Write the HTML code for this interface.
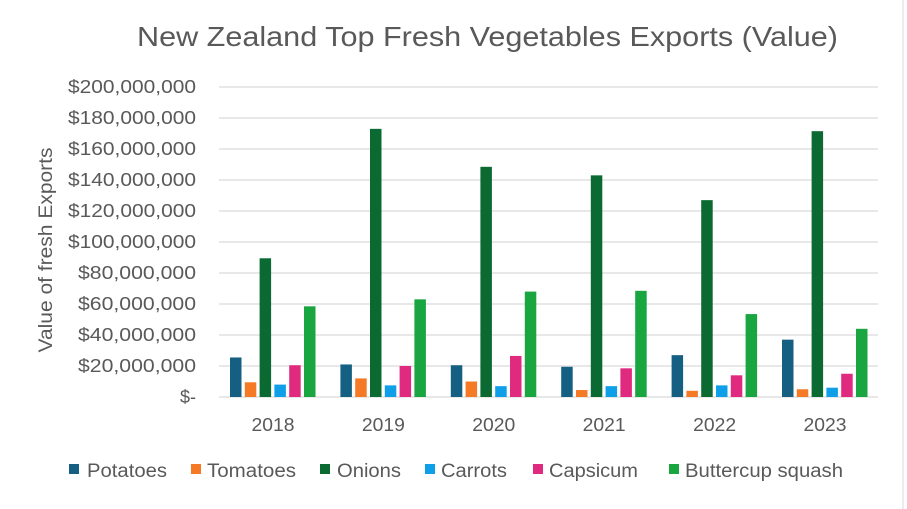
<!DOCTYPE html>
<html><head><meta charset="utf-8"><style>
body{margin:0;background:#fff}
svg{display:block;font-family:"Liberation Sans",sans-serif}
</style></head><body>
<svg id="c" width="907" height="509" viewBox="0 0 907 509" xmlns="http://www.w3.org/2000/svg">
<rect x="0" y="0" width="907" height="509" fill="#fff"/>
<line x1="903" y1="0" x2="903" y2="509" stroke="#d9d9d9"/>
<text x="137" y="46" font-size="28" fill="#595959" textLength="701" lengthAdjust="spacingAndGlyphs">New Zealand Top Fresh Vegetables Exports (Value)</text>
<g id="grid" stroke="#d9d9d9" stroke-width="1.3"></g>
<g id="ylab" font-size="18" fill="#595959" text-anchor="end"></g>
<text transform="translate(52,250) rotate(-90)" text-anchor="middle" font-size="19" fill="#595959" textLength="205" lengthAdjust="spacingAndGlyphs">Value of fresh Exports</text>
<g id="bars"></g>
<g id="xlab" font-size="18" fill="#595959" text-anchor="middle"></g>
<g font-size="19" fill="#595959">
<rect x="69" y="464" width="10" height="10" fill="#156082"/><text x="87" y="477" textLength="80" lengthAdjust="spacingAndGlyphs">Potatoes</text>
<rect x="191" y="464" width="10" height="10" fill="#f57a25"/><text x="207" y="477" textLength="89" lengthAdjust="spacingAndGlyphs">Tomatoes</text>
<rect x="320" y="464" width="10" height="10" fill="#0b6a32"/><text x="337" y="477" textLength="64" lengthAdjust="spacingAndGlyphs">Onions</text>
<rect x="425" y="464" width="10" height="10" fill="#0f9ee8"/><text x="441" y="477" textLength="66" lengthAdjust="spacingAndGlyphs">Carrots</text>
<rect x="533" y="464" width="10" height="10" fill="#e02a7f"/><text x="549" y="477" textLength="89" lengthAdjust="spacingAndGlyphs">Capsicum</text>
<rect x="669" y="464" width="10" height="10" fill="#19a540"/><text x="685" y="477" textLength="158" lengthAdjust="spacingAndGlyphs">Buttercup squash</text>
</g>
</svg>
<script>
var ns="http://www.w3.org/2000/svg";
function el(t,a,p,txt){var e=document.createElementNS(ns,t);for(var k in a)e.setAttribute(k,a[k]);if(txt!==undefined)e.textContent=txt;document.getElementById(p).appendChild(e);return e;}
var labs=["$-","$20,000,000","$40,000,000","$60,000,000","$80,000,000","$100,000,000","$120,000,000","$140,000,000","$160,000,000","$180,000,000","$200,000,000"];
for(var i=0;i<=10;i++){var y=397-i*31;el("line",{x1:219,x2:878,y1:y,y2:y},"grid");
var a={x:196,y:y+6};if(i>0){a.textLength=(i>=5?128:118);a.lengthAdjust="spacingAndGlyphs";}
el("text",a,"ylab",labs[i]);}
var cols=["#156082","#f57a25","#0b6a32","#0f9ee8","#e02a7f","#19a540"];
var d=[[25.5,9.5,89.5,8,20.5,58.5],[21,12,173,7.5,20,63],[20.5,10,148.5,7,26.5,68],[19.5,4.5,143,7,18.5,68.5],[27,4,127,7.5,14,53.5],[37,5,171.5,6,15,44]];
var yrs=["2018","2019","2020","2021","2022","2023"];
for(var g=0;g<6;g++){var s=230+110.4*g;for(var j=0;j<6;j++){var h=d[g][j]*1.55;el("rect",{x:s+14.8*j,y:397-h,width:11.5,height:h,fill:cols[j]},"bars");}
el("text",{x:s+43,y:431,textLength:43,lengthAdjust:"spacingAndGlyphs"},"xlab",yrs[g]);}
</script>
</body></html>
